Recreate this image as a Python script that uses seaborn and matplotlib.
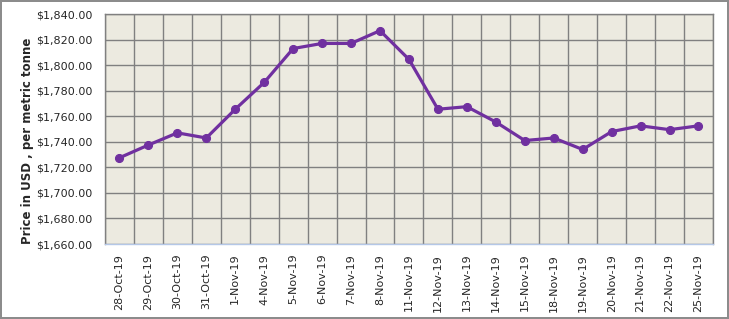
import matplotlib
matplotlib.use("Agg")
import matplotlib.pyplot as plt
import numpy as np
import pandas as pd
import seaborn as sns
from matplotlib.ticker import FuncFormatter, MultipleLocator

dates = ["28-Oct-19", "29-Oct-19", "30-Oct-19", "31-Oct-19", "1-Nov-19",
         "4-Nov-19", "5-Nov-19", "6-Nov-19", "7-Nov-19", "8-Nov-19",
         "11-Nov-19", "12-Nov-19", "13-Nov-19", "14-Nov-19", "15-Nov-19",
         "18-Nov-19", "19-Nov-19", "20-Nov-19", "21-Nov-19", "22-Nov-19",
         "25-Nov-19"]
prices = [1727.5, 1737.5, 1747, 1743, 1765.5, 1786.5, 1813, 1817, 1817, 1827,
          1804.5, 1765.5, 1767.5, 1755.5, 1741, 1743, 1734, 1748, 1752.5,
          1749.5, 1752.5]

df = pd.DataFrame({"date": dates, "price": prices})

sns.set_theme(style="white")
plt.rcParams["font.family"] = ["DejaVu Sans"]

fig = plt.figure(figsize=(7.29, 3.19), dpi=100)
fig.patch.set_facecolor("white")
fig.patch.set_edgecolor("#8c8c8c")
fig.patch.set_linewidth(1.5)
ax = fig.add_axes([0.144, 0.235, 0.834, 0.721])
ax.set_facecolor("#ECEAE0")

sns.lineplot(data=df, x="date", y="price", sort=False, ax=ax,
             color="#7030A0", linewidth=2.3, marker="o", markersize=5.8,
             markeredgecolor="#7030A0")

ax.set_xlim(-0.5, len(dates) - 0.5)
ax.set_ylim(1660, 1840)
ax.yaxis.set_major_locator(MultipleLocator(20))
ax.yaxis.set_major_formatter(FuncFormatter(lambda v, p: f"${v:,.2f}"))
ax.set_xticks(np.arange(len(dates)))
ax.set_xticklabels(dates, rotation=90, fontsize=8)
ax.set_xticks(np.arange(-0.5, len(dates), 1), minor=True)
ax.tick_params(axis="y", labelsize=8, length=0, pad=9)
ax.tick_params(axis="x", which="both", length=0, pad=7)
ax.grid(True, axis="y", which="major", color="#808080", linewidth=1)
ax.grid(True, axis="x", which="minor", color="#808080", linewidth=1)
ax.set_axisbelow(True)

for s in ["top", "left", "right"]:
    ax.spines[s].set_color("#808080")
    ax.spines[s].set_linewidth(1)
ax.spines["bottom"].set_color("#B4C7E7")
ax.spines["bottom"].set_linewidth(1)

ax.set_xlabel("")
ax.set_ylabel("Price in USD , per metric tonne", fontsize=8.5,
              fontweight="bold")
ax.yaxis.set_label_coords(-0.117, 0.45)

fig.savefig("out.png", dpi=100)
